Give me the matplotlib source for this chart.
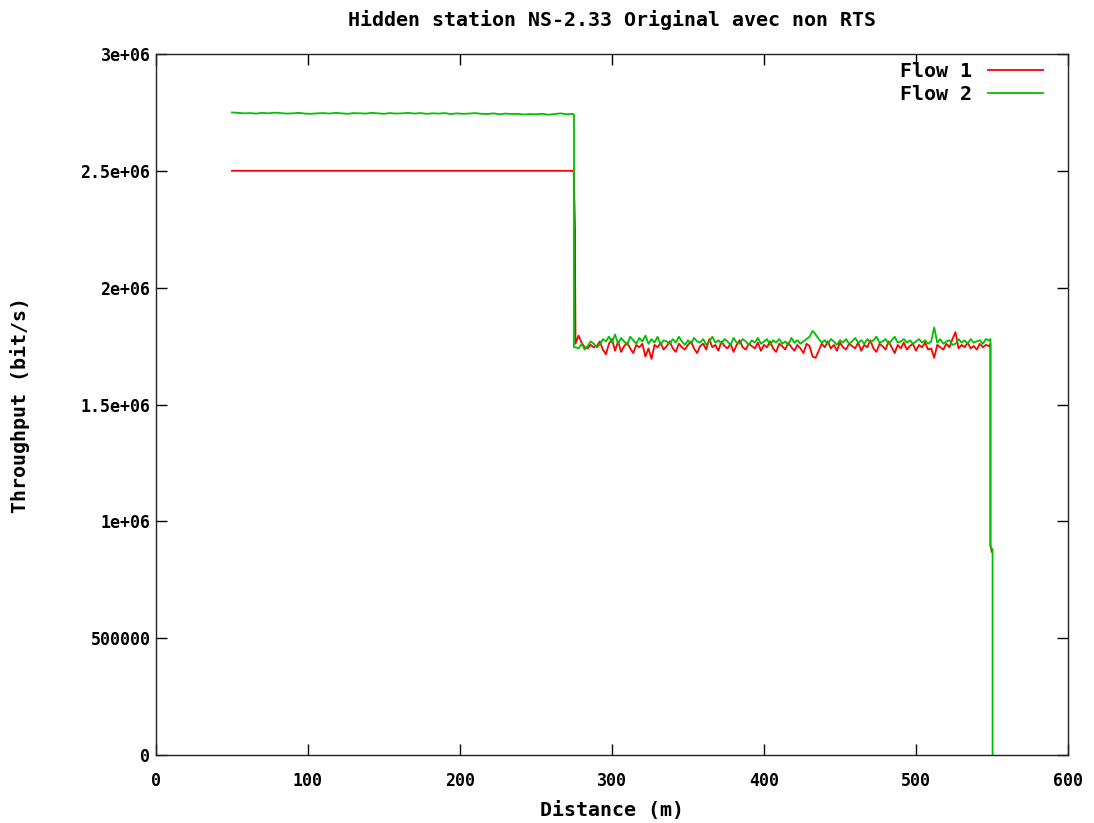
import numpy as np
import matplotlib
matplotlib.use("Agg")
import matplotlib.pyplot as plt

# Throughput in kbit/s
# Flow 1: flat part 50..274.8 m
flow1_flat_x = [50, 274.8]
flow1_flat = [2500, 2500]
# short step visible at 275 m
flow1_drop_x = [275.7, 275.7]
flow1_drop = [2250, 2130]
# noisy part, every 2 m starting at 276 m
flow1_noisy = [
    1760, 1795, 1765, 1745, 1740, 1755, 1745, 1750, 1770, 1735,
    1715, 1760, 1780, 1730, 1770, 1725, 1750, 1765, 1740, 1720,
    1755, 1745, 1760, 1705, 1740, 1695, 1755, 1745, 1765, 1735,
    1750, 1770, 1740, 1725, 1760, 1745, 1735, 1755, 1770, 1740,
    1720, 1750, 1760, 1735, 1780, 1745, 1755, 1730, 1770, 1750,
    1740, 1760, 1725, 1755, 1775, 1745, 1735, 1760, 1750, 1740,
    1765, 1730, 1755, 1745, 1770, 1740, 1725, 1760, 1750, 1735,
    1765, 1745, 1730, 1755, 1740, 1720, 1760, 1750, 1705, 1700,
    1730, 1760, 1745, 1770, 1740, 1755, 1730, 1765, 1745, 1735,
    1760, 1750, 1740, 1765, 1730, 1755, 1745, 1775, 1740, 1725,
    1760, 1750, 1735, 1770, 1745, 1720, 1755, 1740, 1765, 1735,
    1750, 1760, 1730, 1755, 1745, 1765, 1735, 1740, 1700, 1755,
    1745, 1735, 1760, 1745, 1780, 1810, 1740, 1755, 1745, 1765,
    1740, 1750, 1735, 1760, 1745, 1755, 1750,
]
flow1_end_x = [549, 549, 549.8]
flow1_end = [1760, 900, 870]

# Flow 2: flat part every 4 m from 50 m
flow2_flat = [
    2750, 2748, 2746, 2747, 2745, 2748, 2746, 2749, 2747, 2745,
    2746, 2748, 2745, 2744, 2746, 2747, 2745, 2748, 2746, 2744,
    2747, 2746, 2745, 2748, 2746, 2744, 2747, 2745, 2746, 2748,
    2745, 2747, 2744, 2746, 2745, 2747, 2743, 2746, 2744, 2745,
    2747, 2744, 2743, 2746, 2742, 2745, 2743, 2744, 2741, 2743,
    2742, 2744, 2740, 2743, 2746, 2742, 2744,
]
flow2_drop_x = [275, 275]
flow2_drop = [2740, 1745]
flow2_noisy = [
    1745, 1740, 1760, 1735, 1750, 1770, 1760, 1745, 1755, 1780,
    1770, 1790, 1765, 1800, 1760, 1785, 1770, 1755, 1790, 1775,
    1760, 1785, 1770, 1795, 1760, 1780, 1765, 1790, 1755, 1775,
    1770, 1760, 1780, 1765, 1790, 1770, 1755, 1775, 1760, 1785,
    1770, 1765, 1780, 1755, 1770, 1790, 1765, 1775, 1760, 1780,
    1770, 1755, 1785, 1765, 1760, 1780, 1770, 1755, 1775, 1765,
    1785, 1760, 1770, 1780, 1755, 1775, 1765, 1780, 1760, 1770,
    1755, 1785, 1765, 1775, 1760, 1770, 1780, 1790, 1815, 1800,
    1780, 1765, 1775, 1760, 1780, 1770, 1755, 1775, 1765, 1780,
    1760, 1770, 1785, 1765, 1775, 1760, 1780, 1765, 1775, 1790,
    1765, 1770, 1780, 1760, 1775, 1790, 1765, 1770, 1780, 1765,
    1775, 1760, 1770, 1780, 1765, 1775, 1760, 1770, 1830, 1765,
    1780, 1760, 1770, 1775, 1755, 1760, 1780, 1765, 1775, 1760,
    1780, 1765, 1770, 1775, 1760, 1780, 1775,
]
flow2_end_x = [549, 549, 550.4, 550.4]
flow2_end = [1780, 890, 880, 0]

# assemble series
x1 = np.concatenate([flow1_flat_x, flow1_drop_x,
                     np.arange(276, 276 + 2 * len(flow1_noisy), 2), flow1_end_x])
y1 = np.concatenate([flow1_flat, flow1_drop, flow1_noisy, flow1_end]) * 1e3
x2 = np.concatenate([np.arange(50, 50 + 4 * len(flow2_flat), 4), flow2_drop_x,
                     np.arange(276, 276 + 2 * len(flow2_noisy), 2), flow2_end_x])
y2 = np.concatenate([flow2_flat, flow2_drop, flow2_noisy, flow2_end]) * 1e3

yticks = [0, 500000, 1e6, 1.5e6, 2e6, 2.5e6, 3e6]
ytick_labels = ["0", "500000", "1e+06", "1.5e+06", "2e+06", "2.5e+06", "3e+06"]

plt.rcParams["font.family"] = "DejaVu Sans Mono"
plt.rcParams["font.weight"] = "bold"
plt.rcParams["font.size"] = 12

fig = plt.figure(figsize=(10.94, 8.23), dpi=100)
ax = fig.add_axes([0.1426, 0.0826, 0.8336, 0.8518])

ax.plot(x1, y1, color="#ff0000", lw=1.3, label="Flow 1")
ax.plot(x2, y2, color="#00c000", lw=1.3, label="Flow 2")

ax.set_xlim(0, 600)
ax.set_ylim(0, 3e6)
ax.set_xticks(range(0, 601, 100))
ax.set_yticks(yticks)
ax.set_yticklabels(ytick_labels)
ax.tick_params(direction="in", length=8, width=1, top=True, right=True)
ax.tick_params(axis="x", pad=12.5)
ax.tick_params(axis="y", pad=4)
for s in ax.spines.values():
    s.set_linewidth(1)
    s.set_color("#222222")

ax.set_xlabel("Distance (m)", fontweight="bold", fontsize=14.4)
ax.xaxis.set_label_coords(0.5, -0.066)
ax.set_ylabel("Throughput (bit/s)", fontweight="bold", fontsize=14.4)
ax.yaxis.set_label_coords(-0.138, 0.5)
ax.set_title("Hidden station NS-2.33 Original avec non RTS", fontweight="bold",
             fontsize=14.4, pad=20)

ax.legend(loc="upper right", frameon=False, markerfirst=False, handlelength=2.75,
          handletextpad=0.8, borderaxespad=0, borderpad=0, labelspacing=0.2,
          bbox_to_anchor=(0.9726, 0.9886),
          prop={"family": "DejaVu Sans Mono", "weight": "bold", "size": 14.4})

plt.savefig("out.png", dpi=100)
